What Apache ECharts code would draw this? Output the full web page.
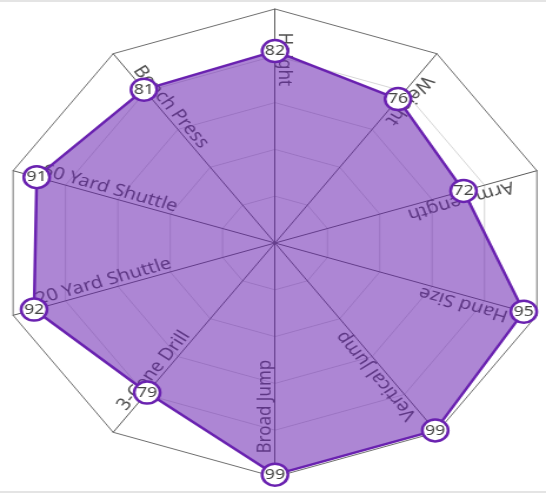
<!DOCTYPE html>
<html><head><meta charset="utf-8">
<script src="https://cdn.jsdelivr.net/npm/echarts@6/dist/echarts.min.js"></script>
<style>
html,body{margin:0;padding:0;background:#fff;width:546px;height:493px;overflow:hidden}
#frame{position:absolute;left:0;top:0;width:546px;height:493px;border-top:2px solid #e4e4e4;border-bottom:2px solid #e4e4e4;box-sizing:border-box}
#chart{position:absolute;left:0;top:0;width:464px;height:493px;transform:scaleX(1.1767);transform-origin:0 0}
</style></head><body>
<div id="frame"></div><div id="chart"></div>
<script>
// Clockwise from the top
const categories = ['Height','Weight','Arm Length','Hand Size','Vertical Jump','Broad Jump','3-Cone Drill','20 Yard Shuttle','60 Yard Shuttle','Bench Press'];
const values = [82,76,72,95,99,99,79,92,91,81];
const maxValue = 100;

const CX = 233.7, CY = 243, R = 234;
const LINE = '#6a22b0';
const FONT = '"Noto Sans", "Open Sans", sans-serif';

// ECharts radar lays indicators out counter-clockwise; reorder so they appear clockwise
const order = [0].concat(categories.map((_, i) => i).slice(1).reverse());
const indicator = order.map(i => ({ name: categories[i], max: maxValue }));
const seriesValues = order.map(i => values[i]);

const nameGraphics = categories.map((name, i) => {
  const theta = (90 - 36 * i) * Math.PI / 180;
  const r = R * 0.9;
  return {
    type: 'text', z: 1,
    x: CX + r * Math.cos(theta),
    y: CY - r * Math.sin(theta),
    rotation: theta + Math.PI,
    style: {
      text: name, fill: '#505050', font: '17px ' + FONT,
      align: 'left', verticalAlign: 'bottom', textAlign: 'left', textVerticalAlign: 'bottom'
    }
  };
});

const chart = echarts.init(document.getElementById('chart'), null, { renderer: 'canvas' });
chart.setOption({
  animation: false,
  radar: {
    center: [CX, CY], radius: R, startAngle: 90, shape: 'polygon', splitNumber: 5,
    indicator: indicator,
    axisName: { show: false },
    axisLine: { lineStyle: { color: '#5a5a5a', width: 1 } },
    splitLine: { lineStyle: { color: ['#d6d6d6', '#d6d6d6', '#d6d6d6', '#d6d6d6', '#d6d6d6', '#6e6e6e'], width: 1 } },
    splitArea: { show: false }
  },
  graphic: nameGraphics,
  series: [{
    type: 'radar', z: 2,
    symbol: 'circle', symbolSize: 22,
    lineStyle: { color: LINE, width: 2.5 },
    itemStyle: { color: '#fff', borderColor: LINE, borderWidth: 2.5 },
    areaStyle: { color: LINE, opacity: 0.55 },
    label: { show: true, position: 'inside', color: '#444', fontSize: 15, fontFamily: FONT },
    data: [{ value: seriesValues, name: 'Player' }]
  }]
});
</script></body></html>
